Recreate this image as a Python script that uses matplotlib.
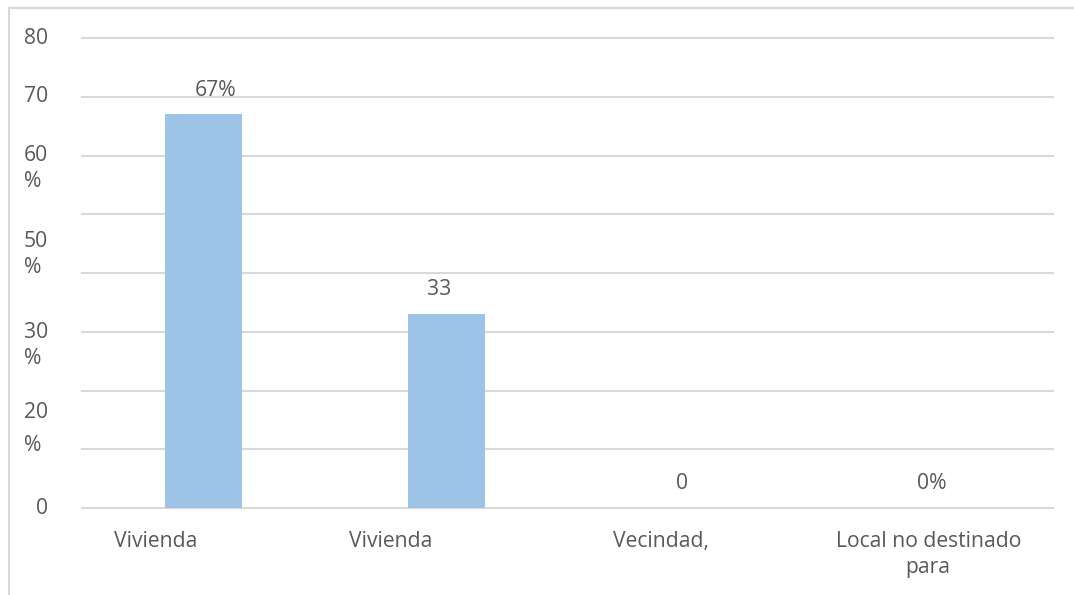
import matplotlib
matplotlib.use("Agg")
import matplotlib.pyplot as plt
from matplotlib.patches import Rectangle

# ---- data ----
categories = ["Vivienda", "Vivienda", "Vecindad,", "Local no destinado\npara"]
values = [67, 33, 0, 0]
value_labels = ["67%", "33", "0", "0%"]
ytick_values = [0, 10, 20, 30, 40, 50, 60, 70, 80]
ylabel_nums = ["80", "70", "60", "50", "30", "20", "0"]
ylabel_pct = ["%", "%", "%", "%"]

# ---- layout (positions as drawn in the reference) ----
ylabel_num_pos = [80, 70, 60, 45.3, 29.8, 16.2, 0]
ylabel_pct_pos = [55.5, 40.9, 25.5, 10.7]
xlabel_pos = [-0.196, 0.770, 1.884, 2.986]
vlabel_dx = [0.05, -0.03, -0.03, 0.0]

W, H = 1074, 595
fig = plt.figure(figsize=(W / 100, H / 100), dpi=100)
fig.patch.set_facecolor("white")
ax = fig.add_axes([82 / W, 1 - 508 / H, (1053 - 82) / W, (508 - 38) / H])

txt = "#595959"
font = "Open Sans"
fs = 15.2

ax.bar(range(len(values)), values, width=0.317, color="#9DC3E6", zorder=3)
ax.set_xlim(-0.5, len(values) - 0.5)
ax.set_ylim(0, 80)
ax.set_yticks(ytick_values)
ax.yaxis.grid(True, color="#d9d9d9", linewidth=1.5, zorder=0)
for gl in ax.get_ygridlines():
    gl.set_clip_on(False)
ax.set_yticklabels([])
ax.set_xticks([])
ax.tick_params(left=False, bottom=False)
for s in ax.spines.values():
    s.set_visible(False)

# y labels
px_to_x = 1 / 243.25
for t, y in zip(ylabel_nums, ylabel_num_pos):
    ax.text(-0.5 - 34 * px_to_x, y, t, ha="right", va="center",
            fontsize=fs, color=txt, family=font, clip_on=False)
for t, y in zip(ylabel_pct, ylabel_pct_pos):
    ax.text(-0.5 - 58 * px_to_x, y, t, ha="left", va="center",
            fontsize=fs, color=txt, family=font, clip_on=False)

# value labels
for i, (v, lab) in enumerate(zip(values, value_labels)):
    ax.annotate(lab, (i + vlabel_dx[i], v), xytext=(0, 17.5), textcoords="offset points",
                ha="center", va="center", fontsize=fs, color=txt, family=font)

# x labels
for x, lab in zip(xlabel_pos, categories):
    ax.annotate(lab, (x, 0), xytext=(0, -16.5), textcoords="offset points",
                ha="center", va="top", fontsize=fs, color=txt, family=font,
                linespacing=1.3, annotation_clip=False)

# outer frame
fig.patches.append(Rectangle((8.5 / W, -0.1), 1.2, 1 - 8.5 / H + 0.1,
                             transform=fig.transFigure, fill=False,
                             edgecolor="#d9d9d9", linewidth=1.5))

fig.savefig("out.png", dpi=100)
